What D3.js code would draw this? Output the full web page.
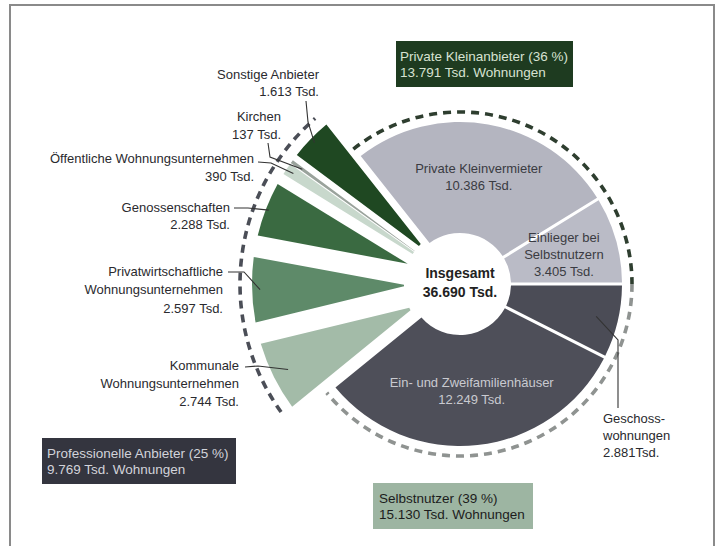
<!DOCTYPE html>
<html><head><meta charset="utf-8">
<script src="https://cdn.jsdelivr.net/npm/d3@7"></script>
<style>
html,body{margin:0;padding:0;background:#fff;}
svg{display:block;}
</style></head><body>
<svg id="chart" width="720" height="546"></svg>
<script>
// ---------- data ----------
const categories = ["Private Kleinvermieter","Einlieger bei Selbstnutzern","Geschosswohnungen","Ein- und Zweifamilienhäuser","Kommunale Wohnungsunternehmen","Privatwirtschaftliche Wohnungsunternehmen","Genossenschaften","Öffentliche Wohnungsunternehmen","Kirchen","Sonstige Anbieter"];
const values = [10386, 3405, 2881, 12249, 2744, 2597, 2288, 390, 137, 1613];
const groups = ["private","private","selbst","selbst","prof","prof","prof","prof","prof","prof"];
const valueLabels = ["10.386 Tsd.","3.405 Tsd.","2.881Tsd.","12.249 Tsd.","2.744 Tsd.","2.597 Tsd.","2.288 Tsd.","390 Tsd.","137 Tsd.","1.613 Tsd."];
const nameLines = [["Private Kleinvermieter"],["Einlieger bei","Selbstnutzern"],["Geschoss-","wohnungen"],["Ein- und Zweifamilienhäuser"],["Kommunale","Wohnungsunternehmen"],["Privatwirtschaftliche","Wohnungsunternehmen"],["Genossenschaften"],["Öffentliche Wohnungsunternehmen"],["Kirchen"],["Sonstige Anbieter"]];
const groupNames = ["private","selbst","prof"];
const groupTitles = ["Private Kleinanbieter (36 %)","Selbstnutzer (39 %)","Professionelle Anbieter (25 %)"];
const groupTotals = ["13.791 Tsd. Wohnungen","15.130 Tsd. Wohnungen","9.769 Tsd. Wohnungen"];
const totalLabel = ["Insgesamt","36.690 Tsd."];

// ---------- styles / layout ----------
const cx = 460, cy = 284;
const sliceColors = ["#b4b5c0","#babbc6","#4b4c56","#4e4f59","#a3bba8","#5e8a69","#3a6a41","#c8d8cc","#9aa39c","#1f4822"];
const padPx = [3,3,3,3,22,22,22,1,1,12];
const outerR = {private:162, selbst:162, prof:208};
const innerR = {private:51, selbst:51, prof:56};
const dashR = {private:172, selbst:172, prof:220};
const dashColor = {private:"#2e3e2f", selbst:"#8f9391", prof:"#4b4e57"};
const boxStyle = {
  private:{x:396,y:41,w:177,h:46,fill:"#1e3b20",text:"#d7e2d2",tx:400,ty:[61,77]},
  selbst:{x:373,y:483,w:160,h:46,fill:"#9db5a2",text:"#1c1c1c",tx:379,ty:[503,519]},
  prof:{x:42,y:438,w:194,h:46,fill:"#34353f",text:"#d2d3da",tx:47,ty:[458,474]}
};
// outside labels: text anchor position + leader line start/elbow, index into data
const outside = [
  {i:9, x:319, ys:[79,96], anchor:"end", lead:[[306,101],[308,122]], lr:203},
  {i:8, x:281, ys:[121,139], anchor:"end", lead:[[268,143],[270,157]], lr:195},
  {i:7, x:254, ys:[163,181], anchor:"end", lead:[[258,162],[271,163]], lr:200},
  {i:6, x:230, ys:[212,229], anchor:"end", lead:[[234,208],[248,208]], lr:205},
  {i:5, x:223, ys:[276,294,313], anchor:"end", lead:[[228,272],[244,272]], lr:200},
  {i:4, x:239, ys:[370,388,406], anchor:"end", lead:[[245,367],[258,366]], lr:192},
  {i:2, x:603, ys:[423,440,457], anchor:"start", lead:[[618,408],[618,340]], lr:140}
];
const inside = [0,1,3];

const svg = d3.select("#chart");
svg.append("rect").attr("x",10).attr("y",5).attr("width",704).attr("height",570)
  .attr("fill","none").attr("stroke","#8a8a8a").attr("stroke-width",2);

const data = categories.map((c,i)=>({name:c,value:values[i],group:groups[i],label:valueLabels[i],lines:nameLines[i]}));
const total = d3.sum(values);
const privSum = d3.sum(data.filter(d=>d.group==="private"), d=>d.value);
const a0 = Math.PI/2 - 2*Math.PI*privSum/total;
const pie = d3.pie().value(d=>d.value).sort(null).startAngle(a0).endAngle(a0+2*Math.PI);
const arcs = pie(data);

const g = svg.append("g").attr("transform",`translate(${cx},${cy})`);
const PR = 100;
const arc = d3.arc()
  .innerRadius(d=>innerR[d.data.group])
  .outerRadius(d=>outerR[d.data.group])
  .padRadius(PR)
  .padAngle(d=>padPx[d.index]/PR);

g.selectAll("path.slice").data(arcs).join("path")
  .attr("class","slice")
  .attr("d",arc)
  .attr("fill",(d,i)=>sliceColors[i]);

// dashed group arcs
groupNames.forEach(gn=>{
  const ga = arcs.filter(d=>d.data.group===gn);
  let s = d3.min(ga,d=>d.startAngle), e = d3.max(ga,d=>d.endAngle);
  if (gn==="prof"){ s += 14/dashR[gn]; e -= 11/dashR[gn]; }
  const p = d3.path();
  p.arc(0,0,dashR[gn], s-Math.PI/2, e-Math.PI/2);
  g.append("path").attr("d",p.toString()).attr("fill","none")
    .attr("stroke",dashColor[gn]).attr("stroke-width",3.6).attr("stroke-dasharray","8 6");
});

// center label
g.append("circle").attr("r",50).attr("fill","#fff");
g.selectAll("text.tot").data(totalLabel).join("text")
  .attr("class","tot").attr("x",0).attr("y",(d,i)=>-6+i*19)
  .attr("text-anchor","middle").attr("font-family","Liberation Sans, Arial, sans-serif")
  .attr("font-weight","bold").attr("font-size",14).attr("fill","#222").text(d=>d);

// inside labels
const labelArc = d3.arc().innerRadius(108).outerRadius(108);
inside.forEach(i=>{
  const d = arcs[i];
  const [x,y] = labelArc.centroid(d);
  const lines = d.data.lines.concat([d.data.label]);
  const dark = d.data.group==="selbst";
  const n = lines.length;
  g.append("text").attr("text-anchor","middle")
    .attr("font-family","Liberation Sans, Arial, sans-serif").attr("font-size",13)
    .attr("fill", dark ? "#c9cad0" : "#3a3b42")
    .selectAll("tspan").data(lines).join("tspan")
    .attr("x",x).attr("y",(t,k)=>y + 4 + (k-(n-1)/2)*17).text(t=>t);
});

// outside labels + leaders
outside.forEach(o=>{
  const d = arcs[o.i];
  const mid = (d.startAngle+d.endAngle)/2;
  const px = cx + o.lr*Math.sin(mid), py = cy - o.lr*Math.cos(mid);
  const pts = o.lead.concat([[px,py]]);
  svg.append("path").attr("d",d3.line()(pts)).attr("fill","none")
    .attr("stroke","#333").attr("stroke-width",1.1);
  const lines = d.data.lines.concat([d.data.label]);
  svg.append("text").attr("text-anchor",o.anchor)
    .attr("font-family","Liberation Sans, Arial, sans-serif").attr("font-size",13)
    .attr("fill","#2a2a2e")
    .selectAll("tspan").data(lines).join("tspan")
    .attr("x",o.x).attr("y",(t,k)=>o.ys[k]).text(t=>t);
});

// legend boxes
groupNames.forEach((gn,k)=>{
  const b = boxStyle[gn];
  svg.append("rect").attr("x",b.x).attr("y",b.y).attr("width",b.w).attr("height",b.h).attr("fill",b.fill);
  svg.append("text").attr("font-family","Liberation Sans, Arial, sans-serif").attr("font-size",13.5)
    .attr("fill",b.text)
    .selectAll("tspan").data([groupTitles[k],groupTotals[k]]).join("tspan")
    .attr("x",b.tx).attr("y",(t,j)=>b.ty[j]).text(t=>t);
});
</script>
</body></html>
